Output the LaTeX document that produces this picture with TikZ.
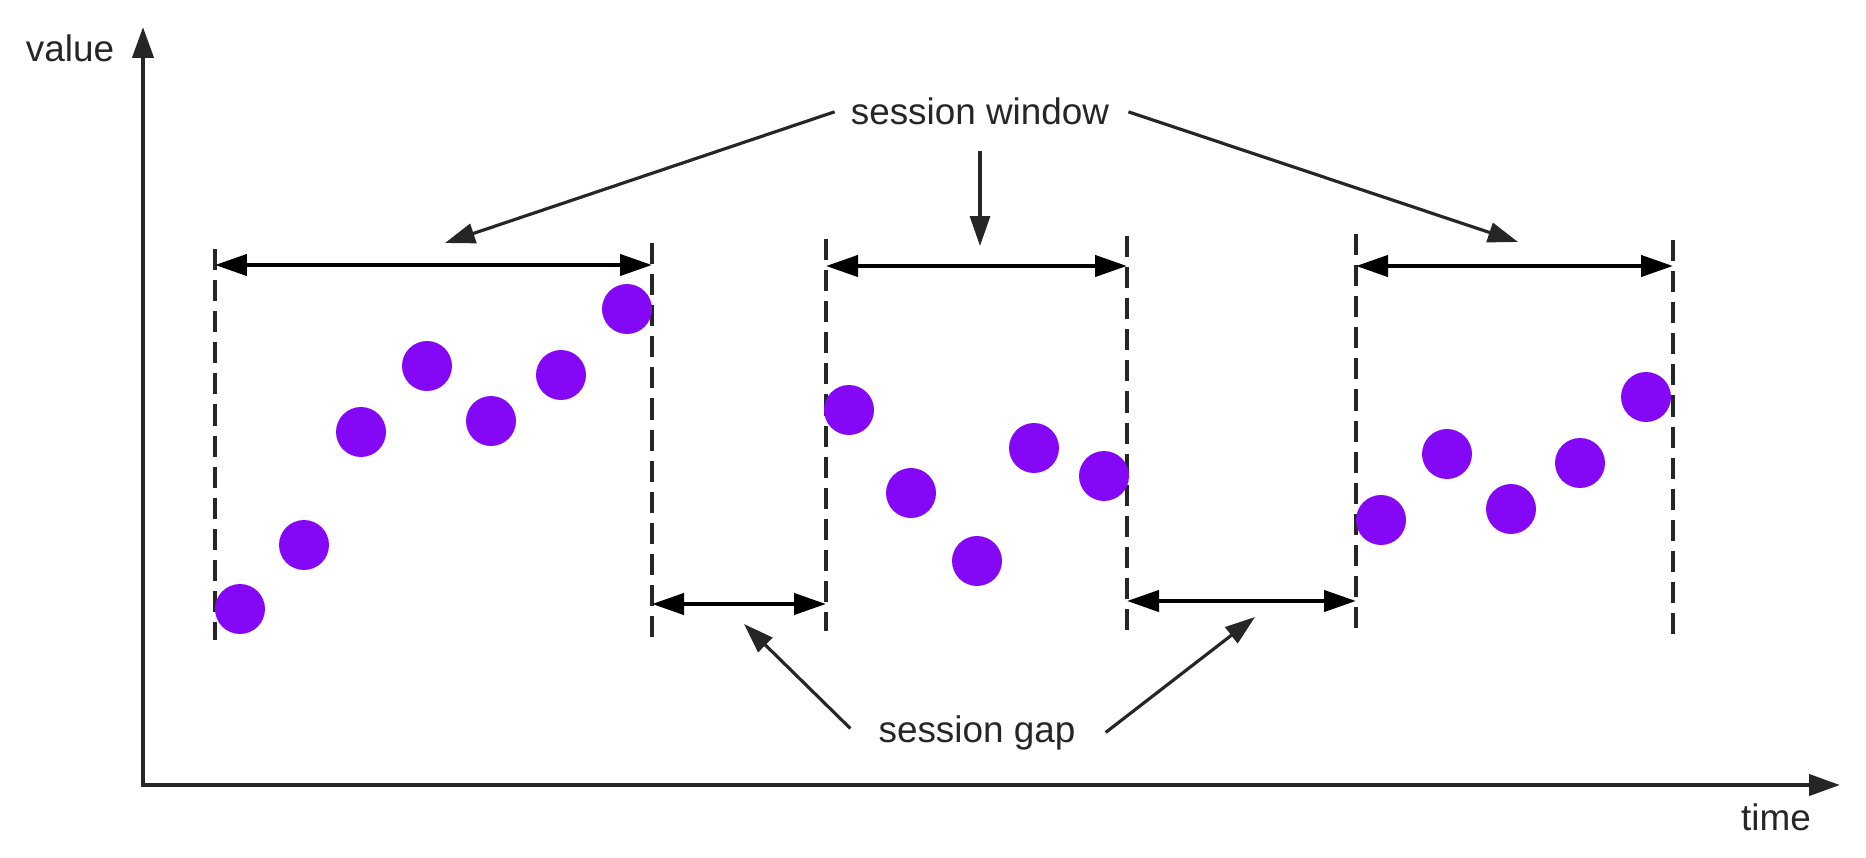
\documentclass[tikz,border=0pt]{standalone}
\usepackage{fontspec}
\setmainfont{Liberation Sans}
\usetikzlibrary{arrows.meta}

\definecolor{dotpurple}{RGB}{132,8,245}
\definecolor{ink}{RGB}{38,38,38}

\tikzset{
    axis/.style = {line width=2.4pt, ink, {Triangle[length=0.62cm,width=0.42cm]}-{Triangle[length=0.62cm,width=0.42cm]}},
    bound/.style = {line width=2.5pt, ink, dash pattern=on 12pt off 5.7pt},
    span/.style = {line width=2.4pt, black, {Triangle[length=0.64cm,width=0.42cm]}-{Triangle[length=0.64cm,width=0.42cm]}},
    pointer/.style = {line width=1.8pt, ink, -{Triangle[length=0.6cm,width=0.4cm]}},
    dot/.style = {circle, fill=dotpurple, minimum size=1cm, inner sep=0pt},
    txt/.style = {text=ink, font=\fontsize{21}{25}\selectfont, anchor=base}
}

\begin{document}
\begin{tikzpicture}[x=0.02cm, y=-0.02cm]

    \useasboundingbox (0,0) rectangle (1866,858);

    % axes
    \coordinate (origin) at (143,785);
    \coordinate (ytop) at (143,27);
    \coordinate (xend) at (1840,785);
    \draw[axis] (ytop) -- (origin) -- (xend);

    \node[txt] (value) at (70,62) {value};
    \node[txt] (time) at (1776,830) {time};

    % window bounds
    \foreach \name/\x/\top/\bot in {a/215/249/640, b/652/243/640, c/826/239/631,
                                    d/1127/236/637, e/1356/234/637, f/1673/240/641}{
        \coordinate (\name) at (\x,0);
        \draw[bound] (\x,\top) -- (\x,\bot);
    }

    % windows and gaps
    \foreach \l/\r/\y in {a/b/265, c/d/266, e/f/266, b/c/604, d/e/601}
        \draw[span] (\l |- 0,\y) -- (\r |- 0,\y);

    % events
    \foreach \x/\y [count=\i] in {240/609, 304/545, 361/432, 427/366, 491/421, 561/375, 627/309,
                                  849/410, 911/493, 977/561, 1034/448, 1104/476,
                                  1381/520, 1447/454, 1511/509, 1580/463, 1646/397}
        \node[dot] (ev\i) at (\x,\y) {};

    % labels
    \node[txt] (window) at (980,125) {session window};
    \node[txt] (gap) at (977,742) {session gap};

    \coordinate (wtip1) at (445,243);
    \coordinate (wtip2) at (980,246);
    \coordinate (wtip3) at (1518,242);
    \coordinate (gtip1) at (744,624);
    \coordinate (gtip2) at (1255,617);

    \draw[pointer] ([xshift=-0.2cm]window.west) -- (wtip1);
    \draw[pointer] ([yshift=-0.38cm]window.south) -- (wtip2);
    \draw[pointer] ([xshift=0.26cm]window.east) -- (wtip3);
    \draw[pointer] ([shift={(-0.44cm,0.08cm)}]gap.west) -- (gtip1);
    \draw[pointer] ([xshift=0.48cm]gap.east) -- (gtip2);

\end{tikzpicture}
\end{document}
